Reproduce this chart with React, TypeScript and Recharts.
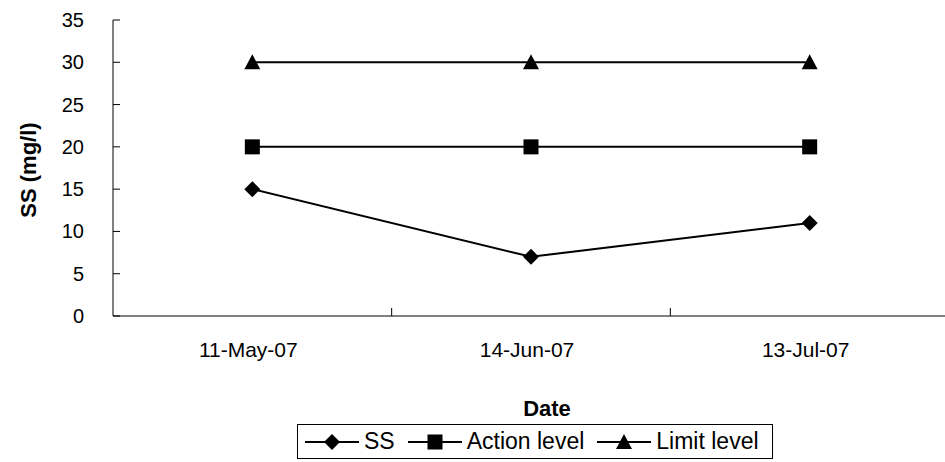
import React from 'react';
import { LineChart, Line, XAxis, YAxis, Legend } from 'recharts';

const dates = ['11-May-07', '14-Jun-07', '13-Jul-07'];
const ssValues = [15, 7, 11];
const actionLevel = [20, 20, 20];
const limitLevel = [30, 30, 30];
const yTicks = [0, 5, 10, 15, 20, 25, 30, 35];

const data = dates.map((d, i) => ({ date: d, ss: ssValues[i], action: actionLevel[i], limit: limitLevel[i] }));

const FONT = '"Liberation Sans", Arial, sans-serif';

type Shape = 'diamond' | 'square' | 'triangle';

const Marker = ({ cx, cy, shape }: { cx: number; cy: number; shape: Shape }) => {
  if (cx == null || cy == null) return null;
  if (shape === 'diamond') {
    const r = 8;
    return <polygon points={`${cx},${cy - r} ${cx + r},${cy} ${cx},${cy + r} ${cx - r},${cy}`} fill="#000" />;
  }
  if (shape === 'square') {
    const s = 7.5;
    return <rect x={cx - s} y={cy - s} width={s * 2} height={s * 2} fill="#000" />;
  }
  return <polygon points={`${cx},${cy - 8} ${cx + 8},${cy + 7} ${cx - 8},${cy + 7}`} fill="#000" />;
};

const makeDot = (shape: Shape) => (props: any) => (
  <Marker key={`${shape}-${props.index}`} cx={props.cx} cy={props.cy} shape={shape} />
);

const YTick = (props: any) => {
  const { x, y, payload } = props;
  return (
    <g>
      <line x1={x} y1={y} x2={x + 7} y2={y} stroke="#000" strokeWidth={1} />
      <text x={x - 29} y={y} dy="0.35em" textAnchor="end" fontSize={20} fontFamily={FONT} fill="#000">
        {payload.value}
      </text>
    </g>
  );
};

const XTick = (props: any) => {
  const { x, y, payload, index, width, visibleTicksCount } = props;
  const n = visibleTicksCount || dates.length;
  const band = (width || 836) / n;
  return (
    <g>
      {index < n - 1 && (
        <line x1={x + band / 2} y1={y} x2={x + band / 2} y2={y - 8} stroke="#000" strokeWidth={1} />
      )}
      <text x={x - 4} y={y + 41} textAnchor="middle" fontSize={21} fontFamily={FONT} fill="#000">
        {payload.value}
      </text>
    </g>
  );
};

const legendItems: { label: string; shape: Shape }[] = [
  { label: 'SS', shape: 'diamond' },
  { label: 'Action level', shape: 'square' },
  { label: 'Limit level', shape: 'triangle' },
];

const LegendContent = () => (
  <div
    style={{
      border: '1px solid #000',
      boxSizing: 'border-box',
      width: 476,
      height: 35,
      display: 'flex',
      alignItems: 'center',
      paddingLeft: 7,
      fontFamily: FONT,
      fontSize: 23,
      color: '#000',
      background: '#fff',
      whiteSpace: 'nowrap',
    }}
  >
    {legendItems.map((it) => (
      <div key={it.label} style={{ display: 'flex', alignItems: 'center', marginRight: 13, flexShrink: 0 }}>
        <svg width={54} height={20} style={{ flexShrink: 0 }}>
          <line x1={0} y1={10} x2={54} y2={10} stroke="#000" strokeWidth={2} />
          <Marker cx={27} cy={10} shape={it.shape} />
        </svg>
        <span style={{ marginLeft: 5, lineHeight: '23px', whiteSpace: 'nowrap' }}>{it.label}</span>
      </div>
    ))}
  </div>
);

export default function App() {
  return (
    <div style={{ position: 'absolute', left: 0, top: 0, width: 945, height: 462, overflow: 'hidden', background: '#fff' }}>
      <LineChart width={950} height={462} data={data} margin={{ top: 20, right: 1, left: 0, bottom: 0 }}>
        <XAxis
          dataKey="date"
          scale="band"
          height={146}
          axisLine={{ stroke: '#000', strokeWidth: 1 }}
          tickLine={false}
          tickSize={0}
          tickMargin={0}
          tick={<XTick />}
          interval={0}
          label={{
            content: (p: any) => {
              const vb = p.viewBox || { x: 113, y: 316, width: 836 };
              return (
                <text x={vb.x + vb.width / 2 + 16} y={vb.y + 100} textAnchor="middle" fontSize={22} fontWeight="bold" fontFamily={FONT} fill="#000">
                  Date
                </text>
              );
            },
          }}
        />
        <YAxis
          width={113}
          domain={[0, 35]}
          ticks={yTicks}
          axisLine={{ stroke: '#000', strokeWidth: 1 }}
          tickLine={false}
          tickSize={0}
          tickMargin={0}
          tick={<YTick />}
          interval={0}
          label={{
            content: (p: any) => {
              const vb = p.viewBox || { x: 0, y: 20, width: 113, height: 296 };
              const cx = vb.x + 28;
              const cy = vb.y + vb.height / 2 + 2;
              return (
                <text x={cx} y={cy} transform={`rotate(-90, ${cx}, ${cy})`} textAnchor="middle" dominantBaseline="central" fontSize={22} fontWeight="bold" fontFamily={FONT} fill="#000">
                  SS (mg/l)
                </text>
              );
            },
          }}
        />
        <Legend
          layout="horizontal"
          verticalAlign="middle"
          align="center"
          wrapperStyle={{ position: 'absolute', top: 424, left: 297, width: 476, height: 35 }}
          content={<LegendContent />}
        />
        <Line dataKey="ss" stroke="#000" strokeWidth={2} dot={makeDot('diamond')} isAnimationActive={false} />
        <Line dataKey="action" stroke="#000" strokeWidth={2} dot={makeDot('square')} isAnimationActive={false} />
        <Line dataKey="limit" stroke="#000" strokeWidth={2} dot={makeDot('triangle')} isAnimationActive={false} />
      </LineChart>
    </div>
  );
}
